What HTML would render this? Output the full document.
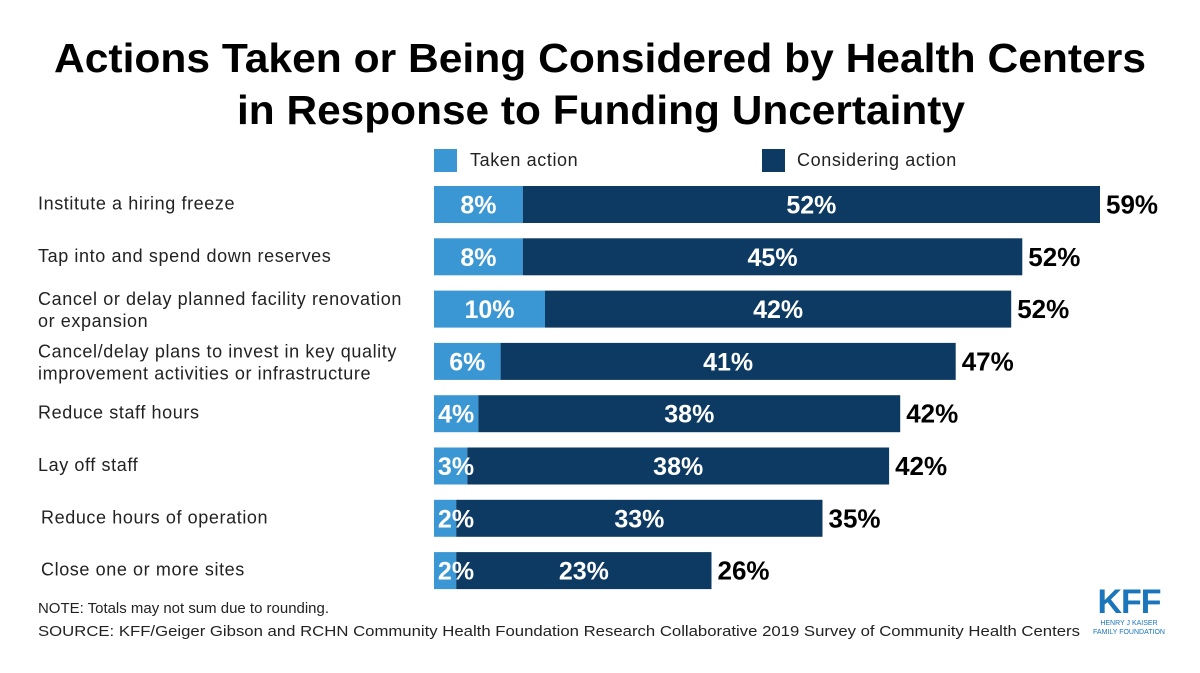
<!DOCTYPE html>
<html><head><meta charset="utf-8"><style>
body{margin:0;background:#fff;}
svg{display:block;font-family:"Liberation Sans",sans-serif;}
</style></head><body>
<svg id="c" width="1200" height="673" viewBox="0 0 1200 673">
<text x="600" y="72" text-anchor="middle" font-size="41" font-weight="bold" fill="#000" textLength="1092" lengthAdjust="spacingAndGlyphs">Actions Taken or Being Considered by Health Centers</text>
<text x="601" y="124" text-anchor="middle" font-size="41" font-weight="bold" fill="#000" textLength="728" lengthAdjust="spacingAndGlyphs">in Response to Funding Uncertainty</text>
<rect x="434" y="149" width="23" height="23" fill="#3b97d3"/>
<text x="470" y="166" font-size="18" fill="#222" letter-spacing="0.6">Taken action</text>
<rect x="762" y="149" width="23" height="23" fill="#0d3a63"/>
<text x="797" y="166" font-size="18" fill="#222" letter-spacing="0.6">Considering action</text>
<g id="bars"></g>
<text x="38" y="613" font-size="15" fill="#222" textLength="291" lengthAdjust="spacingAndGlyphs">NOTE: Totals may not sum due to rounding.</text>
<text x="38" y="636" font-size="15" fill="#222" textLength="1042" lengthAdjust="spacingAndGlyphs">SOURCE: KFF/Geiger Gibson and RCHN Community Health Foundation Research Collaborative 2019 Survey of Community Health Centers</text>
<text x="1129" y="613" text-anchor="middle" font-size="34" font-weight="bold" fill="#1a75bb" letter-spacing="-1">KFF</text>
<text x="1129" y="625" text-anchor="middle" font-size="7" fill="#1a75bb">HENRY J KAISER</text>
<text x="1129" y="634" text-anchor="middle" font-size="7" fill="#1a75bb">FAMILY FOUNDATION</text>
</svg>
<script>
const categories=[["Institute a hiring freeze"],["Tap into and spend down reserves"],["Cancel or delay planned facility renovation","or expansion"],["Cancel/delay plans to invest in key quality","improvement activities or infrastructure"],["Reduce staff hours"],["Lay off staff"],["Reduce hours of operation"],["Close one or more sites"]];
const taken=[8,8,10,6,4,3,2,2];
const considering=[52,45,42,41,38,38,33,23];
const totals=[59,52,52,47,42,42,35,26];
const x0=434, scale=11.1;
const xs=v=>v*scale;
const rowY=i=>186+i*52.3;
const barH=37;
const g=document.getElementById('bars');
const NS='http://www.w3.org/2000/svg';
function mk(t,a,txt){const e=document.createElementNS(NS,t);for(const k in a)e.setAttribute(k,a[k]);if(txt!=null)e.textContent=txt;g.appendChild(e);return e;}
categories.forEach((lines,i)=>{
  const y=rowY(i), cy=y+barH/2;
  const lx=i>=6?41:38;
  const lbl=mk('text',{x:lx,y:lines.length>1?cy-4:cy+5,'font-size':18,fill:'#222','letter-spacing':0.6});
  
  
  lines.forEach((l,j)=>{const s=document.createElementNS(NS,'tspan');s.setAttribute('x',lx);if(j>0)s.setAttribute('dy',22);s.textContent=l;lbl.appendChild(s);});
  const wt=xs(taken[i]), wc=xs(considering[i]);
  const r1=mk('rect',{x:x0,y:y,width:wt,height:barH,fill:'#3b97d3'});
  
  
  const r2=mk('rect',{x:x0+wt,y:y,width:wc,height:barH,fill:'#0d3a63'});
  
  
  const t1=mk('text',{x:x0+Math.max(wt,44)/2,y:cy+9,'text-anchor':'middle','font-size':25,'font-weight':'bold',fill:'#fff'},taken[i]+'%');
  
  
  const t2=mk('text',{x:x0+wt+wc/2,y:cy+9,'text-anchor':'middle','font-size':25,'font-weight':'bold',fill:'#fff'},considering[i]+'%');
  
  
  const t3=mk('text',{x:x0+wt+wc+6,y:cy+9,'font-size':26,'font-weight':'bold',fill:'#000'},totals[i]+'%');
  
  
});
</script>
</body></html>
